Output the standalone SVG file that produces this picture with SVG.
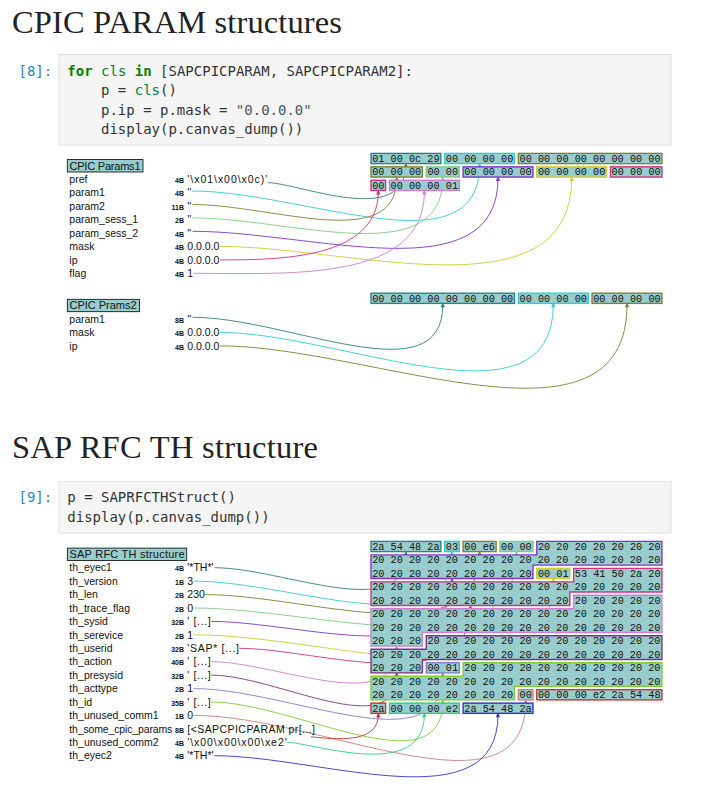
<svg xmlns="http://www.w3.org/2000/svg" xmlns:xlink="http://www.w3.org/1999/xlink" width="703" height="804" viewBox="0 0 703 804">
<defs>
<style>
.h1{font-family:"Liberation Serif",serif;font-size:32.5px;fill:#222}
.prompt{font-family:"DejaVu Sans Mono",monospace;font-size:14px;fill:#307fc1}
.code{font-family:"DejaVu Sans Mono",monospace;font-size:14px;fill:#333}
.kw{fill:#008000;font-weight:bold}
.var{fill:#00803a}
.str{fill:#4a5560}
.cell{fill:#f5f5f5;stroke:#e0e0e0;stroke-width:1}
.hdr{fill:#99cccc;stroke:#000;stroke-width:0.8}
.hdrt{font-family:"Liberation Sans",sans-serif;font-size:11px;fill:#111}
.lbl{font-family:"Liberation Sans",sans-serif;font-size:10.5px;fill:#111}
.sz{font-family:"Liberation Sans",sans-serif;font-size:7px;font-weight:bold;fill:#111;text-anchor:end}
.hex{font-family:"Liberation Mono",monospace;font-size:10.23px;fill:#111}
.fr{fill:#99cccc;stroke-width:1.4}
.cn{fill:none;stroke-width:0.9}
.k1{stroke:#338080;color:#338080}
.k2{stroke:#33cccc;color:#33cccc}
.k3{stroke:#808033;color:#808033}
.k4{stroke:#80cc80;color:#80cc80}
.k5{stroke:#8033cc;color:#8033cc}
.k6{stroke:#cccc33;color:#cccc33}
.k7{stroke:#cc3380;color:#cc3380}
.k8{stroke:#cc80cc;color:#cc80cc}
.k9{stroke:#803380;color:#803380}
.k10{stroke:#8080cc;color:#8080cc}
.k11{stroke:#80cc33;color:#80cc33}
.k12{stroke:#cc8080;color:#cc8080}
.k13{stroke:#cc3333;color:#cc3333}
.k14{stroke:#33cc80;color:#33cc80}
.k15{stroke:#3333cc;color:#3333cc}
</style>
<path id="ah" d="M0,0 L-2.2,4.8 L2.2,4.8 Z" fill="currentColor" stroke="none"/>
</defs>
<rect width="703" height="804" fill="#fff"/>

<g id="title-cpic"><text class="h1" x="12" y="32.5" textLength="330">CPIC PARAM structures</text></g>
<g id="cell-8">
<rect class="cell" x="59" y="54.5" width="612" height="90.5"/>
<text class="prompt" x="18.5" y="75.8">[8]:</text>
<text class="code" x="67.3" y="75.8"><tspan class="kw">for</tspan> <tspan class="var">cls</tspan> <tspan class="kw">in</tspan> [SAPCPICPARAM, SAPCPICPARAM2]:</text>
<text class="code" x="101" y="95.2">p = <tspan class="var">cls</tspan>()</text>
<text class="code" x="101" y="114.6">p.ip = p.mask = <tspan class="str">"0.0.0.0"</tspan></text>
<text class="code" x="101" y="134">display(p.canvas_dump())</text>
</g>

<g id="title-th"><text class="h1" x="12" y="458.3" textLength="306">SAP RFC TH structure</text></g>
<g id="cell-9">
<rect class="cell" x="59" y="481.7" width="612" height="51.3"/>
<text class="prompt" x="18.5" y="502.2">[9]:</text>
<text class="code" x="67.3" y="502.2">p = SAPRFCTHStruct()</text>
<text class="code" x="67.3" y="521.6">display(p.canvas_dump())</text>
</g>

<g id="connectors">
<path class="cn k1" d="M267.8,182.7 C297.7,182.7 405.9,228.7 405.9,164.7"/><use href="#ah" class="k1" x="405.9" y="162.7"/>
<path class="cn k2" d="M192,191 C303.4,191 479.6,272.4 479.6,164.7"/><use href="#ah" class="k2" x="479.6" y="162.7"/>
<path class="cn k3" d="M192.5,204.5 C271.5,204.5 396.7,253.6 396.7,178.2"/><use href="#ah" class="k3" x="396.7" y="176.2"/>
<path class="cn k4" d="M192.5,217.9 C290.1,217.9 442.8,272.2 442.8,178.2"/><use href="#ah" class="k4" x="442.8" y="176.2"/>
<path class="cn k5" d="M192.5,231.3 C312.2,231.3 498,294.3 498,178.2"/><use href="#ah" class="k5" x="498" y="176.2"/>
<path class="cn k6" d="M220,246.4 C350.1,246.4 571.7,318.4 571.7,178.2"/><use href="#ah" class="k6" x="571.7" y="176.2"/>
<path class="cn k7" d="M220,259.9 C277.7,259.9 378.3,259.5 378.3,191.6"/><use href="#ah" class="k7" x="378.3" y="189.6"/>
<path class="cn k8" d="M193.6,273.3 C287.8,273.3 424.4,282.8 424.4,191.6"/><use href="#ah" class="k8" x="424.4" y="189.6"/>

<path class="cn k1" d="M192.5,317.3 C288.7,317.3 442.8,397.2 442.8,304.5"/><use href="#ah" class="k1" x="442.8" y="302.5"/>
<path class="cn k2" d="M220,332.4 C340.6,332.4 553.3,435.3 553.3,304.5"/><use href="#ah" class="k2" x="553.3" y="302.5"/>
<path class="cn k3" d="M220,345.9 C369.8,345.9 627,464.5 627,304.5"/><use href="#ah" class="k3" x="627" y="302.5"/>

<path class="cn k1" d="M214.5,567.7 C283.5,567.7 405.9,625.5 405.9,552.7"/><use href="#ah" class="k1" x="405.9" y="550.7"/>
<path class="cn k2" d="M193.6,581.1 C293.2,581.1 452,649.5 452,552.7"/><use href="#ah" class="k2" x="452" y="550.7"/>
<path class="cn k3" d="M205.3,594.6 C308.2,594.6 479.6,658.7 479.6,552.7"/><use href="#ah" class="k3" x="479.6" y="550.7"/>
<path class="cn k4" d="M193.6,608 C319.7,608 516.4,676 516.4,552.7"/><use href="#ah" class="k4" x="516.4" y="550.7"/>
<path class="cn k5" d="M211.2,621.4 C299.4,621.4 452,673.9 452,579.7"/><use href="#ah" class="k5" x="452" y="577.7"/>
<path class="cn k6" d="M193.6,634.8 C333.8,634.8 553.3,717.1 553.3,579.7"/><use href="#ah" class="k6" x="553.3" y="577.7"/>
<path class="cn k7" d="M239.5,648.3 C315.2,648.3 470.4,702.4 470.4,606.6"/><use href="#ah" class="k7" x="470.4" y="604.6"/>
<path class="cn k8" d="M211.2,661.7 C276.5,661.7 396.7,718.4 396.7,647.1"/><use href="#ah" class="k8" x="396.7" y="645.1"/>
<path class="cn k9" d="M211.2,675.1 C276.2,675.1 396.7,745 396.7,674"/><use href="#ah" class="k9" x="396.7" y="672"/>
<path class="cn k10" d="M193.6,688.6 C289,688.6 442.8,766.6 442.8,674"/><use href="#ah" class="k10" x="442.8" y="672"/>
<path class="cn k11" d="M211.2,702 C294.1,702 442.8,789.9 442.8,701"/><use href="#ah" class="k11" x="442.8" y="699"/>
<path class="cn k12" d="M193.6,715.4 C321.3,715.4 525.7,825.9 525.7,701"/><use href="#ah" class="k12" x="525.7" y="699"/>
<path class="cn k13" d="M311,736.8 C346.9,740.8 378.3,740.5 378.3,714.5"/><use href="#ah" class="k13" x="378.3" y="712.5"/>
<path class="cn k14" d="M287.2,742.3 C311.3,742.3 424.3,782.6 424.3,714.5"/><use href="#ah" class="k14" x="424.3" y="712.5"/>
<path class="cn k15" d="M214.5,755.7 C320.4,755.7 498,824.2 498,714.5"/><use href="#ah" class="k15" x="498" y="712.5"/>
</g>

<!-- CPIC Params1 -->
<g id="cpic-params1-header">
<rect class="hdr" x="67.3" y="159.6" width="75.7" height="12.4"/>
<text class="hdrt" x="69.5" y="169.6" textLength="71">CPIC Params1</text>
</g>
<g id="a-pref">
<text class="lbl" x="69.3" y="183">pref</text><text class="sz" x="184" y="183">4B</text>
<text class="lbl" x="187.3" y="183" textLength="80">'\x01\x00\x0c)'</text>
<rect class="fr k1" x="371" y="153.4" width="69.86" height="10.2"/>
<text class="hex" x="372.15" y="161.9">01 00 0c 29</text>
</g>
<g id="a-param1">
<text class="lbl" x="69.3" y="196.43">param1</text><text class="sz" x="184" y="196.43">4B</text>
<text class="lbl" x="187.3" y="196.43">''</text>
<rect class="fr k2" x="444.68" y="153.4" width="69.86" height="10.2"/>
<text class="hex" x="445.83" y="161.9">00 00 00 00</text>
</g>
<g id="a-param2">
<text class="lbl" x="69.3" y="209.86">param2</text><text class="sz" x="184" y="209.86">11B</text>
<text class="lbl" x="187.3" y="209.86">''</text>
<rect class="fr k3" x="518.36" y="153.4" width="143.54" height="10.2"/>
<text class="hex" x="519.51" y="161.9">00 00 00 00 00 00 00 00</text>
<rect class="fr k3" x="371" y="166.85" width="51.44" height="10.2"/>
<text class="hex" x="372.15" y="175.35">00 00 00</text>
</g>
<g id="a-param-sess-1">
<text class="lbl" x="69.3" y="223.29">param_sess_1</text><text class="sz" x="184" y="223.29">2B</text>
<text class="lbl" x="187.3" y="223.29">''</text>
<rect class="fr k4" x="426.26" y="166.85" width="33.02" height="10.2"/>
<text class="hex" x="427.41" y="175.35">00 00</text>
</g>
<g id="a-param-sess-2">
<text class="lbl" x="69.3" y="236.72">param_sess_2</text><text class="sz" x="184" y="236.72">4B</text>
<text class="lbl" x="187.3" y="236.72">''</text>
<rect class="fr k5" x="463.1" y="166.85" width="69.86" height="10.2"/>
<text class="hex" x="464.25" y="175.35">00 00 00 00</text>
</g>
<g id="a-mask">
<text class="lbl" x="69.3" y="250.15">mask</text><text class="sz" x="184" y="250.15">4B</text>
<text class="lbl" x="187.3" y="250.15">0.0.0.0</text>
<rect class="fr k6" x="536.78" y="166.85" width="69.86" height="10.2"/>
<text class="hex" x="537.93" y="175.35">00 00 00 00</text>
</g>
<g id="a-ip">
<text class="lbl" x="69.3" y="263.58">ip</text><text class="sz" x="184" y="263.58">4B</text>
<text class="lbl" x="187.3" y="263.58">0.0.0.0</text>
<rect class="fr k7" x="610.46" y="166.85" width="51.44" height="10.2"/>
<text class="hex" x="611.61" y="175.35">00 00 00</text>
<rect class="fr k7" x="371" y="180.3" width="14.6" height="10.2"/>
<text class="hex" x="372.15" y="188.8">00</text>
</g>
<g id="a-flag">
<text class="lbl" x="69.3" y="277.01">flag</text><text class="sz" x="184" y="277.01">4B</text>
<text class="lbl" x="187.3" y="277.01">1</text>
<rect class="fr k8" x="389.42" y="180.3" width="69.86" height="10.2"/>
<text class="hex" x="390.57" y="188.8">00 00 00 01</text>
</g>

<!-- CPIC Prams2 -->
<g id="cpic-prams2-header">
<rect class="hdr" x="67.3" y="299.3" width="72.2" height="12.4"/>
<text class="hdrt" x="69.5" y="309.4" textLength="67">CPIC Prams2</text>
</g>
<g id="b-param1">
<text class="lbl" x="69.3" y="322.7">param1</text><text class="sz" x="184" y="322.7">8B</text>
<text class="lbl" x="187.3" y="322.7">''</text>
<rect class="fr k1" x="371" y="293.2" width="143.54" height="10.2"/>
<text class="hex" x="372.15" y="301.7">00 00 00 00 00 00 00 00</text>
</g>
<g id="b-mask">
<text class="lbl" x="69.3" y="336.13">mask</text><text class="sz" x="184" y="336.13">4B</text>
<text class="lbl" x="187.3" y="336.13">0.0.0.0</text>
<rect class="fr k2" x="518.36" y="293.2" width="69.86" height="10.2"/>
<text class="hex" x="519.51" y="301.7">00 00 00 00</text>
</g>
<g id="b-ip">
<text class="lbl" x="69.3" y="349.56">ip</text><text class="sz" x="184" y="349.56">4B</text>
<text class="lbl" x="187.3" y="349.56">0.0.0.0</text>
<rect class="fr k3" x="592.04" y="293.2" width="69.86" height="10.2"/>
<text class="hex" x="593.19" y="301.7">00 00 00 00</text>
</g>

<!-- SAP RFC TH structure -->
<g id="th-header">
<rect class="hdr" x="67.3" y="548.1" width="119.4" height="12.4"/>
<text class="hdrt" x="69.5" y="558.2" textLength="115">SAP RFC TH structure</text>
</g>
<g id="th-eyec1">
<text class="lbl" x="69.3" y="571.4">th_eyec1</text><text class="sz" x="184" y="571.4">4B</text>
<text class="lbl" x="187.3" y="571.4">'*TH*'</text>
<rect class="fr k1" x="371" y="541.4" width="69.86" height="10.2"/>
<text class="hex" x="372.15" y="549.9">2a 54 48 2a</text>
</g>
<g id="th-version">
<text class="lbl" x="69.3" y="584.83">th_version</text><text class="sz" x="184" y="584.83">1B</text>
<text class="lbl" x="187.3" y="584.83">3</text>
<rect class="fr k2" x="444.68" y="541.4" width="14.6" height="10.2"/>
<text class="hex" x="445.83" y="549.9">03</text>
</g>
<g id="th-len">
<text class="lbl" x="69.3" y="598.26">th_len</text><text class="sz" x="184" y="598.26">2B</text>
<text class="lbl" x="187.3" y="598.26">230</text>
<rect class="fr k3" x="463.1" y="541.4" width="33.02" height="10.2"/>
<text class="hex" x="464.25" y="549.9">00 e6</text>
</g>
<g id="th-trace-flag">
<text class="lbl" x="69.3" y="611.69">th_trace_flag</text><text class="sz" x="184" y="611.69">2B</text>
<text class="lbl" x="187.3" y="611.69">0</text>
<rect class="fr k4" x="499.94" y="541.4" width="33.02" height="10.2"/>
<text class="hex" x="501.09" y="549.9">00 00</text>
</g>
<g id="th-sysid">
<text class="lbl" x="69.3" y="625.12">th_sysid</text><text class="sz" x="184" y="625.12">32B</text>
<text class="lbl" x="187.3" y="625.12" textLength="23.4">' [...]</text>
<polygon class="fr k5" points="536.78,541.4 661.9,541.4 661.9,565.08 532.96,565.08 532.96,578.56 371,578.56 371,554.88 536.78,554.88"/>
<text class="hex" x="537.93" y="549.9">20 20 20 20 20 20 20</text>
<text class="hex" x="372.15" y="563.38">20 20 20 20 20 20 20 20 20 20 20 20 20 20 20 20</text>
<text class="hex" x="372.15" y="576.86">20 20 20 20 20 20 20 20 20</text>
</g>
<g id="th-serevice">
<text class="lbl" x="69.3" y="638.55">th_serevice</text><text class="sz" x="184" y="638.55">2B</text>
<text class="lbl" x="187.3" y="638.55">1</text>
<rect class="fr k6" x="536.78" y="568.36" width="33.02" height="10.2"/>
<text class="hex" x="537.93" y="576.86">00 01</text>
</g>
<g id="th-userid">
<text class="lbl" x="69.3" y="651.98">th_userid</text><text class="sz" x="184" y="651.98">32B</text>
<text class="lbl" x="187.3" y="651.98" textLength="51.7">'SAP* [...]</text>
<polygon class="fr k7" points="573.62,568.36 661.9,568.36 661.9,592.04 569.8,592.04 569.8,605.52 371,605.52 371,581.84 573.62,581.84"/>
<text class="hex" x="574.77" y="576.86">53 41 50 2a 20</text>
<text class="hex" x="372.15" y="590.34">20 20 20 20 20 20 20 20 20 20 20 20 20 20 20 20</text>
<text class="hex" x="372.15" y="603.82">20 20 20 20 20 20 20 20 20 20 20</text>
</g>
<g id="th-action">
<text class="lbl" x="69.3" y="665.41">th_action</text><text class="sz" x="184" y="665.41">40B</text>
<text class="lbl" x="187.3" y="665.41" textLength="23.4">' [...]</text>
<polygon class="fr k8" points="573.62,595.32 661.9,595.32 661.9,632.48 422.44,632.48 422.44,645.96 371,645.96 371,608.8 573.62,608.8"/>
<text class="hex" x="574.77" y="603.82">20 20 20 20 20</text>
<text class="hex" x="372.15" y="617.3">20 20 20 20 20 20 20 20 20 20 20 20 20 20 20 20</text>
<text class="hex" x="372.15" y="630.78">20 20 20 20 20 20 20 20 20 20 20 20 20 20 20 20</text>
<text class="hex" x="372.15" y="644.26">20 20 20</text>
</g>
<g id="th-presysid">
<text class="lbl" x="69.3" y="678.84">th_presysid</text><text class="sz" x="184" y="678.84">32B</text>
<text class="lbl" x="187.3" y="678.84" textLength="23.4">' [...]</text>
<polygon class="fr k9" points="426.26,635.76 661.9,635.76 661.9,659.44 422.44,659.44 422.44,672.92 371,672.92 371,649.24 426.26,649.24"/>
<text class="hex" x="427.41" y="644.26">20 20 20 20 20 20 20 20 20 20 20 20 20</text>
<text class="hex" x="372.15" y="657.74">20 20 20 20 20 20 20 20 20 20 20 20 20 20 20 20</text>
<text class="hex" x="372.15" y="671.22">20 20 20</text>
</g>
<g id="th-acttype">
<text class="lbl" x="69.3" y="692.27">th_acttype</text><text class="sz" x="184" y="692.27">2B</text>
<text class="lbl" x="187.3" y="692.27">1</text>
<rect class="fr k10" x="426.26" y="662.72" width="33.02" height="10.2"/>
<text class="hex" x="427.41" y="671.22">00 01</text>
</g>
<g id="th-id">
<text class="lbl" x="69.3" y="705.7">th_id</text><text class="sz" x="184" y="705.7">35B</text>
<text class="lbl" x="187.3" y="705.7" textLength="23.4">' [...]</text>
<polygon class="fr k11" points="463.1,662.72 661.9,662.72 661.9,686.4 514.54,686.4 514.54,699.88 371,699.88 371,676.2 463.1,676.2"/>
<text class="hex" x="464.25" y="671.22">20 20 20 20 20 20 20 20 20 20 20</text>
<text class="hex" x="372.15" y="684.7">20 20 20 20 20 20 20 20 20 20 20 20 20 20 20 20</text>
<text class="hex" x="372.15" y="698.18">20 20 20 20 20 20 20 20</text>
</g>
<g id="th-unused-comm1">
<text class="lbl" x="69.3" y="719.13">th_unused_comm1</text><text class="sz" x="184" y="719.13">1B</text>
<text class="lbl" x="187.3" y="719.13">0</text>
<rect class="fr k12" x="518.36" y="689.68" width="14.6" height="10.2"/>
<text class="hex" x="519.51" y="698.18">00</text>
</g>
<g id="th-some-cpic-params">
<text class="lbl" x="69.3" y="732.56" textLength="103">th_some_cpic_params</text><text class="sz" x="184" y="732.56">8B</text>
<text class="lbl" x="187.3" y="732.56" textLength="127.7">[&lt;SAPCPICPARAM pr[...]</text>
<rect class="fr k13" x="536.78" y="689.68" width="125.12" height="10.2"/>
<text class="hex" x="537.93" y="698.18">00 00 00 e2 2a 54 48</text>
<rect class="fr k13" x="371" y="703.16" width="14.6" height="10.2"/>
<text class="hex" x="372.15" y="711.66">2a</text>
</g>
<g id="th-unused-comm2">
<text class="lbl" x="69.3" y="745.99">th_unused_comm2</text><text class="sz" x="184" y="745.99">4B</text>
<text class="lbl" x="187.3" y="745.99" textLength="99.4">'\x00\x00\x00\xe2'</text>
<rect class="fr k14" x="389.42" y="703.16" width="69.86" height="10.2"/>
<text class="hex" x="390.57" y="711.66">00 00 00 e2</text>
</g>
<g id="th-eyec2">
<text class="lbl" x="69.3" y="759.42">th_eyec2</text><text class="sz" x="184" y="759.42">4B</text>
<text class="lbl" x="187.3" y="759.42">'*TH*'</text>
<rect class="fr k15" x="463.1" y="703.16" width="69.86" height="10.2"/>
<text class="hex" x="464.25" y="711.66">2a 54 48 2a</text>
</g>
</svg>
